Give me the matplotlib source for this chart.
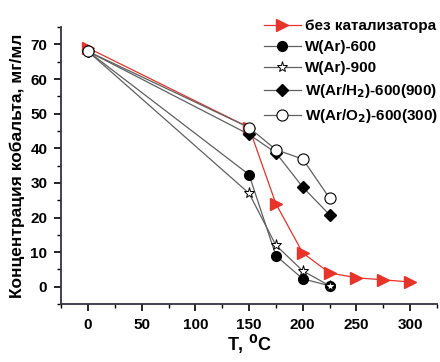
import matplotlib
matplotlib.use('Agg')
import matplotlib.pyplot as plt
import matplotlib.ticker as ticker

plt.rcParams['font.family'] = ['Liberation Sans', 'DejaVu Sans']
plt.rcParams['font.weight'] = 'bold'

# данные
t_red = [0, 150, 175, 200, 225, 250, 275, 300]
c_red = [69, 46, 24, 9.8, 4, 2.6, 2, 1.4]

t_w = [0, 150, 175, 200, 225]
c_ar600 = [68, 32.4, 9, 2.3, 0.3]
c_ar900 = [68, 27, 12, 4.6, 0.3]
c_h2 = [68, 44, 38.7, 28.8, 20.8]
c_o2 = [68, 46, 39.6, 36.9, 25.6]

labels = ['без катализатора', 'W(Ar)-600', 'W(Ar)-900',
          'W(Ar/H$_2$)-600(900)', 'W(Ar/O$_2$)-600(300)']

fig = plt.figure(figsize=(4.4, 3.62), dpi=100)
ax = fig.add_axes([0.139, 0.16, 0.854, 0.765])

gray = '#606060'
ax.plot(t_red, c_red, color='#e8332a', lw=0.9, marker='>', ms=8,
        mfc='#e8332a', mec='#e8332a', label=labels[0], zorder=3)
ax.plot(t_w, c_ar600, color=gray, lw=0.9, marker='o', ms=7,
        mfc='black', mec='black', label=labels[1], zorder=4)
ax.plot(t_w, c_ar900, color=gray, lw=0.9, marker='*', ms=8,
        mfc='white', mec='black', mew=0.7, label=labels[2], zorder=4)
ax.plot(t_w, c_h2, color=gray, lw=0.9, marker='D', ms=6,
        mfc='black', mec='black', label=labels[3], zorder=4)
ax.plot(t_w, c_o2, color=gray, lw=0.9, marker='o', ms=8,
        mfc='white', mec='black', mew=0.8, label=labels[4], zorder=5)

ax.set_xlim(-25, 325)
ax.set_ylim(-5, 75)
ax.xaxis.set_major_locator(ticker.MultipleLocator(50))
ax.xaxis.set_minor_locator(ticker.MultipleLocator(25))
ax.yaxis.set_major_locator(ticker.MultipleLocator(10))
ax.yaxis.set_minor_locator(ticker.MultipleLocator(5))
ax.set_yticks([0, 10, 20, 30, 40, 50, 60, 70])

for s in ['top', 'right']:
    ax.spines[s].set_visible(False)
for s in ['left', 'bottom']:
    ax.spines[s].set_color('#333344')
    ax.spines[s].set_linewidth(1.3)

ax.tick_params(which='major', direction='out', length=5, width=1.2,
               labelsize=11, pad=5)
ax.tick_params(which='minor', direction='out', length=3, width=1)

ax.set_xlabel('T, $^{\\mathbf{0}}$C', fontsize=13, fontweight='bold', labelpad=1)
ax.set_ylabel('Концентрация кобальта, мг/мл', fontsize=12.5,
              fontweight='bold', labelpad=4)

leg = ax.legend(loc='upper right', bbox_to_anchor=(1.02, 1.05), frameon=False,
                prop={'weight': 'bold', 'size': 11}, handlelength=2.4,
                handletextpad=0.3, labelspacing=0.45, borderaxespad=0)

fig.savefig('out.png', dpi=100)
